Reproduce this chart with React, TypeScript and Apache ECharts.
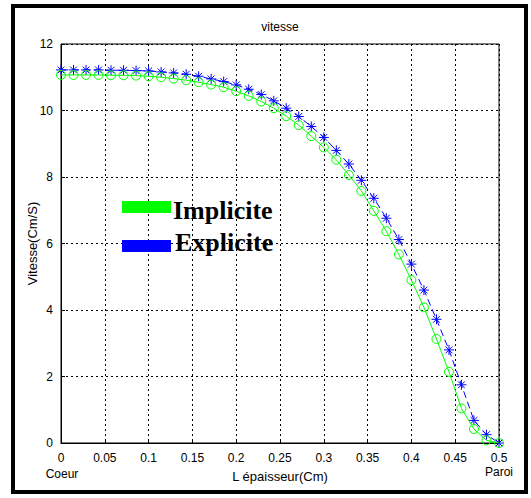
import React, { useEffect, useRef } from "react";
import * as echarts from "echarts";

const xPositions = [
  0, 0.0143, 0.0286, 0.0429, 0.0571, 0.0714, 0.0857, 0.1, 0.1143, 0.1286, 0.1429, 0.1571,
  0.1714, 0.1857, 0.2, 0.2143, 0.2286, 0.2429, 0.2571, 0.2714, 0.2857, 0.3, 0.3143, 0.3286,
  0.3429, 0.3571, 0.3714, 0.3857, 0.4, 0.4143, 0.4286, 0.4429, 0.4571, 0.4714, 0.4857, 0.5,
];

const explicite = [
  11.22, 11.22, 11.22, 11.22, 11.21, 11.21, 11.2, 11.19, 11.16, 11.13, 11.09, 11.03,
  10.95, 10.87, 10.77, 10.64, 10.48, 10.29, 10.07, 9.82, 9.52, 9.19, 8.8, 8.39,
  7.9, 7.36, 6.76, 6.12, 5.38, 4.6, 3.72, 2.8, 1.75, 0.68, 0.25, 0,
];

const implicite = [
  11.07, 11.07, 11.07, 11.07, 11.06, 11.06, 11.05, 11.03, 11.0, 10.96, 10.91, 10.85,
  10.78, 10.7, 10.58, 10.44, 10.27, 10.07, 9.83, 9.56, 9.23, 8.89, 8.52, 8.06,
  7.58, 6.98, 6.37, 5.67, 4.9, 4.08, 3.13, 2.14, 1.04, 0.42, 0.08, 0,
];

const seriesNames = ["Implicite", "Explicite"];
const titleText = "vitesse";
const xAxisName = "L épaisseur(Cm)";
const yAxisName = "Vitesse(Cm/S)";
const xStartLabel = "Coeur";
const xEndLabel = "Paroi";

const SANS = '"Liberation Sans", Arial, sans-serif';
const SERIF = '"Liberation Serif", "Times New Roman", serif';
const STAR = "path://M5,0L5,10M0,5L10,5M1.6,1.6L8.4,8.4M8.4,1.6L1.6,8.4";
const RING = "path://M10,5A5,5,0,1,1,0,5A5,5,0,1,1,10,5Z";

export default function App() {
  const ref = useRef<HTMLDivElement>(null);
  useEffect(() => {
    document.body.style.margin = "0";
    const chart = echarts.init(ref.current!, null, { renderer: "svg" });
    const pair = (ys: number[]) => xPositions.map((x, i) => [x, ys[i]]);
    chart.setOption({
      animation: false,
      backgroundColor: "#fff",
      grid: {
        left: 61,
        right: 32,
        top: 44,
        bottom: 55,
        show: true,
        borderColor: "#000",
        borderWidth: 1,
        backgroundColor: "transparent",
      },
      xAxis: {
        type: "value",
        min: 0,
        max: 0.5,
        interval: 0.05,
        name: xAxisName,
        nameLocation: "middle",
        nameGap: 27,
        nameMoveOverlap: false,
        nameTextStyle: { color: "#000", fontSize: 13, fontFamily: SANS },
        axisLine: { lineStyle: { color: "#000", width: 1 } },
        axisTick: { inside: true, length: 4, lineStyle: { color: "#000" } },
        axisLabel: { color: "#000", fontSize: 12, fontFamily: SANS, margin: 9 },
        splitLine: { show: true, lineStyle: { color: "#000", type: [2, 3], width: 1 } },
      },
      yAxis: {
        type: "value",
        min: 0,
        max: 12,
        interval: 2,
        name: yAxisName,
        nameLocation: "middle",
        nameGap: 22,
        nameMoveOverlap: false,
        nameTextStyle: { color: "#000", fontSize: 13, fontFamily: SANS },
        axisLine: { show: true, lineStyle: { color: "#000", width: 1 } },
        axisTick: { show: true, inside: true, length: 4, lineStyle: { color: "#000" } },
        axisLabel: { color: "#000", fontSize: 12, fontFamily: SANS, margin: 8 },
        splitLine: { show: true, lineStyle: { color: "#000", type: [2, 3], width: 1 } },
      },
      series: [
        {
          name: seriesNames[1],
          type: "line",
          data: pair(explicite),
          symbol: STAR,
          symbolSize: 10,
          showAllSymbol: true,
          lineStyle: { color: "#0000ff", width: 1, type: [7, 4] },
          itemStyle: { color: "#0000ff", borderColor: "#0000ff", borderWidth: 1 },
          z: 3,
        },
        {
          name: seriesNames[0],
          type: "line",
          data: pair(implicite),
          symbol: RING,
          symbolSize: 9,
          showAllSymbol: true,
          lineStyle: { color: "#00ff00", width: 1 },
          itemStyle: { color: "transparent", borderColor: "#00ff00", borderWidth: 1 },
          z: 4,
        },
      ],
      graphic: [
        {
          type: "rect",
          shape: { x: 13, y: 6, width: 513, height: 486 },
          style: { fill: "none", stroke: "#000", lineWidth: 4 },
          silent: true,
        },
        {
          type: "text",
          x: 280,
          y: 27,
          style: { text: titleText, align: "center", verticalAlign: "middle", font: `12px ${SANS}`, fill: "#000" },
        },
        {
          type: "text",
          x: 62,
          y: 474,
          style: { text: xStartLabel, align: "center", verticalAlign: "middle", font: `12px ${SANS}`, fill: "#000" },
        },
        {
          type: "text",
          x: 499,
          y: 472,
          style: { text: xEndLabel, align: "center", verticalAlign: "middle", font: `12px ${SANS}`, fill: "#000" },
        },
        {
          type: "rect",
          shape: { x: 122, y: 201, width: 49, height: 12 },
          style: { fill: "#00ff00" },
          z: 10,
        },
        {
          type: "text",
          x: 173,
          y: 210.5,
          style: { text: seriesNames[0], align: "left", verticalAlign: "middle", font: `bold 26px ${SERIF}`, fill: "#000" },
          z: 10,
        },
        {
          type: "rect",
          shape: { x: 122, y: 240, width: 49, height: 12 },
          style: { fill: "#0000ff" },
          z: 10,
        },
        {
          type: "text",
          x: 175,
          y: 242,
          style: { text: seriesNames[1], align: "left", verticalAlign: "middle", font: `bold 26px ${SERIF}`, fill: "#000" },
          z: 10,
        },
      ],
    });
    return () => chart.dispose();
  }, []);
  return (
    <div
      ref={ref}
      style={{ position: "fixed", left: 0, top: 0, width: 531, height: 498 }}
    />
  );
}
